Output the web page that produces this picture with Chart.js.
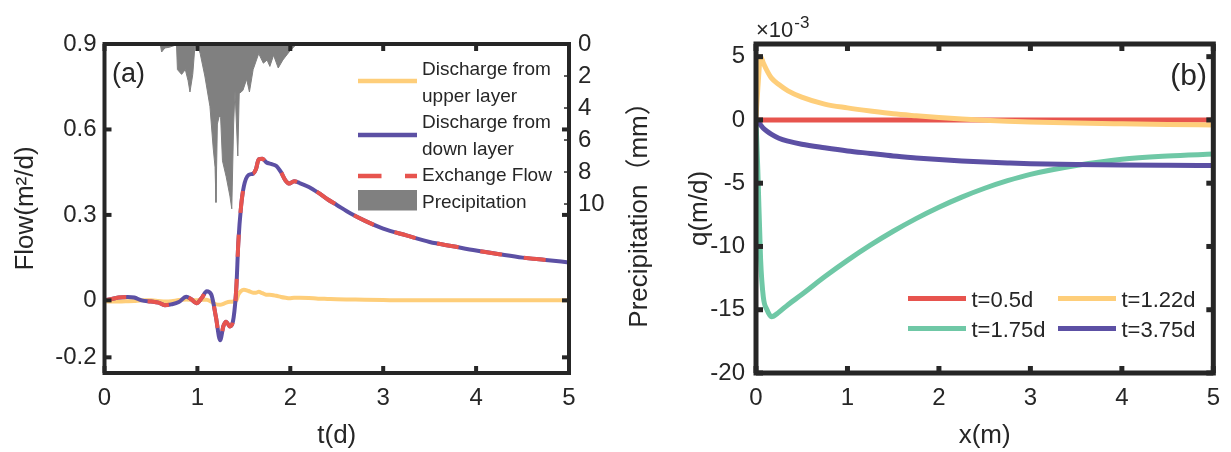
<!DOCTYPE html>
<html>
<head>
<meta charset="utf-8">
<script src="https://cdn.jsdelivr.net/npm/chart.js@4.4.1/dist/chart.umd.min.js"></script>
<style>
  html, body { margin: 0; padding: 0; background: #fff; }
  #wrap { position: relative; width: 1231px; height: 452px; }
  #flowBox { position: absolute; left: 0; top: 0; width: 680px; height: 452px; }
  #qBox { position: absolute; left: 680px; top: 0; width: 551px; height: 452px; }
</style>
</head>
<body>
<div id="wrap">
  <div id="flowBox"><canvas id="flowChart"></canvas></div>
  <div id="qBox"><canvas id="qChart"></canvas></div>
</div>
<script>
// panel (a): flows against time, rain hanging from the top
var tDays = [0, 0.05, 0.15, 0.25, 0.32, 0.4, 0.5, 0.58, 0.65, 0.72, 0.8, 0.88, 0.93, 0.99,
  1.05, 1.1, 1.15, 1.2, 1.245, 1.28, 1.31, 1.35, 1.39, 1.42, 1.44, 1.47, 1.5, 1.55, 1.6,
  1.63, 1.66, 1.7, 1.74, 1.8, 1.85, 1.9, 1.95, 1.99, 2.04, 2.1, 2.2, 2.3, 2.4, 2.5, 2.65,
  2.8, 3.0, 3.25, 3.5, 3.75, 4.0, 4.25, 4.5, 4.75, 5.0];
var upperFlow = [-0.003, -0.004, -0.004, -0.003, -0.002, 0, 0, -0.002, -0.004, -0.003, 0.001,
  0.003, 0.002, 0, 0.002, 0.002, -0.005, -0.014, -0.015, -0.012, -0.008, -0.005, -0.004, 0,
  0.02, 0.033, 0.037, 0.033, 0.027, 0.027, 0.03, 0.025, 0.02, 0.019, 0.016, 0.012, 0.009,
  0.007, 0.009, 0.009, 0.008, 0.006, 0.005, 0.004, 0.003, 0.002, 0.001, 0, 0, 0, 0, 0, 0, 0, 0];
var downFlow = [0, 0.003, 0.010, 0.012, 0.010, 0, -0.004, -0.008, -0.017, -0.014, -0.006,
  0.013, 0.005, -0.010, 0.010, 0.032, 0.020, -0.060, -0.140, -0.090, -0.075, -0.092, -0.060,
  0.05, 0.20, 0.33, 0.40, 0.44, 0.445, 0.46, 0.495, 0.497, 0.485, 0.478, 0.472, 0.45, 0.42,
  0.41, 0.418, 0.412, 0.398, 0.378, 0.355, 0.335, 0.305, 0.28, 0.252, 0.228, 0.205, 0.19,
  0.175, 0.162, 0.150, 0.142, 0.133];
var exchangeFlow = [0, 0.003, 0.010, 0.012, 0.010, 0, -0.004, -0.008, -0.017, -0.014, -0.006,
  0.013, 0.005, -0.010, 0.010, 0.032, 0.020, -0.060, -0.140, -0.090, -0.075, -0.092, -0.060,
  0.05, 0.20, 0.33, 0.40, 0.44, 0.445, 0.46, 0.495, 0.497, 0.485, 0.478, 0.472, 0.45, 0.42,
  0.41, 0.418, 0.412, 0.398, 0.378, 0.355, 0.335, 0.305, 0.28, 0.252, 0.228, 0.205, 0.19,
  0.175, 0.162, 0.150, 0.142, 0.133];
var rainT = [0.60, 0.615, 0.65, 0.70, 0.75, 0.775, 0.785, 0.83, 0.87, 0.90, 0.92, 0.95, 0.975,
  1.0, 1.03, 1.08, 1.135, 1.17, 1.19, 1.20, 1.215, 1.235, 1.25, 1.27, 1.31, 1.35, 1.37, 1.39,
  1.405, 1.435, 1.45, 1.49, 1.53, 1.56, 1.60, 1.66, 1.71, 1.75, 1.78, 1.82, 1.87, 1.92, 2.0, 2.07];
var rainMM = [0, 0.5, 0.25, 0.2, 0.1, 0, 1.6, 1.9, 1.6, 2.3, 3.0, 1.9, 0,
  0, 0.6, 2.0, 3.9, 6.5, 7.7, 9.9, 5.0, 4.5, 4.6, 7.3, 8.3, 9.5, 10.3, 5.0,
  2.9, 7.0, 3.1, 2.9, 2.2, 3.0, 1.6, 0.6, 1.2, 1.0, 1.4, 0.7, 1.5, 1.0, 0.4, 0];
var tTicks = [0, 1, 2, 3, 4, 5];
var flowTicks = [0.9, 0.6, 0.3, 0, -0.2];
var rainTicks = [0, 2, 4, 6, 8, 10];

// panel (b): q along x, in units of 1e-3 m/d
var xM = [0, 0.02, 0.05, 0.08, 0.12, 0.17, 0.25, 0.35, 0.5, 0.75, 1.0, 1.25, 1.5, 1.75,
  2.0, 2.25, 2.5, 2.75, 3.0, 3.5, 4.0, 4.5, 5.0];
var q05 = [0, 0, 0, 0, 0, 0, 0, 0, 0, 0, 0, 0, 0, 0, 0, 0, 0, 0, 0, 0, 0, 0, 0];
var q122 = [0.2, 2.5, 5.0, 4.5, 3.9, 3.3, 2.8, 2.3, 1.8, 1.25, 0.95, 0.7, 0.48, 0.33,
  0.2, 0.08, -0.02, -0.1, -0.16, -0.25, -0.31, -0.36, -0.4];
var q175 = [0, -4.0, -11.0, -14.0, -15.0, -15.55, -15.2, -14.6, -13.8, -12.4, -11.1, -9.9,
  -8.8, -7.8, -6.9, -6.1, -5.4, -4.8, -4.3, -3.6, -3.1, -2.85, -2.7];
var q375 = [0, -0.15, -0.4, -0.65, -0.9, -1.15, -1.45, -1.68, -1.92, -2.2, -2.45, -2.65,
  -2.85, -3.0, -3.13, -3.24, -3.33, -3.4, -3.46, -3.53, -3.57, -3.59, -3.6];
var xTicks = [0, 1, 2, 3, 4, 5];
var qTicks = [5, 0, -5, -10, -15, -20];

var FONT = "'Liberation Sans', Arial, 'Noto Sans CJK SC', sans-serif";
var INK = '#262626';
var YELLOW = 'rgb(254,206,122)';
var PURPLE = 'rgb(92,80,164)';
var RED = 'rgb(231,84,78)';
var GREEN = 'rgb(111,200,166)';
var GREY = 'rgb(128,128,128)';

Chart.defaults.font.family = FONT;
Chart.defaults.color = INK;

function pairs(xs, ys) {
  return xs.map(function(x, i) { return {x: x, y: ys[i]}; });
}
function fixTicks(values) {
  return function(scale) { scale.ticks = values.map(function(v) { return {value: v}; }); };
}
function fixWidth(w) { return function(scale) { scale.width = w; }; }
function fixHeight(h) { return function(scale) { scale.height = h; }; }
function plain(v) { return String(v); }

function seg(ctx, x1, y1, x2, y2) {
  ctx.beginPath();
  ctx.moveTo(x1, y1);
  ctx.lineTo(x2, y2);
  ctx.stroke();
}

// box round the plot with inward ticks, like the matlab axes
var framePlugin = {
  id: 'frame',
  afterDatasetsDraw: function(chart, args, opts) {
    var a = chart.chartArea, ctx = chart.ctx, len = opts.tickLength;
    ctx.save();
    ctx.strokeStyle = INK;
    ctx.lineWidth = opts.lineWidth;
    ctx.strokeRect(a.left, a.top, a.right - a.left, a.bottom - a.top);
    var xs = chart.scales.x;
    xs.ticks.forEach(function(t) {
      var px = xs.getPixelForValue(t.value);
      seg(ctx, px, a.bottom, px, a.bottom - len);
      seg(ctx, px, a.top, px, a.top + len);
    });
    var ys = chart.scales.y;
    ys.ticks.forEach(function(t) {
      var py = ys.getPixelForValue(t.value);
      seg(ctx, a.left, py, a.left + len, py);
      seg(ctx, a.right, py, a.right - len, py);
    });
    if (opts.minor && chart.scales[opts.minor]) {
      var ms = chart.scales[opts.minor];
      ctx.lineWidth = 1.5;
      ms.ticks.forEach(function(t) {
        var py = ms.getPixelForValue(t.value);
        seg(ctx, a.right, py, a.right - 5, py);
      });
    }
    ctx.restore();
  }
};

// legend, panel letter and the rotated rain title for (a)
var flowDecor = {
  id: 'flowDecor',
  afterDraw: function(chart) {
    var ctx = chart.ctx, ds = chart.data.datasets, a = chart.chartArea;
    ctx.save();
    ctx.fillStyle = INK;
    ctx.font = '27px ' + FONT;
    ctx.textAlign = 'left';
    ctx.textBaseline = 'alphabetic';
    ctx.fillText('(a)', 112, 82);

    var x0 = 358, x1 = 417, tx = 422;
    ctx.lineWidth = 4.5;
    ctx.strokeStyle = ds[0].borderColor;
    seg(ctx, x0, 81, x1, 81);
    ctx.strokeStyle = ds[1].borderColor;
    seg(ctx, x0, 135, x1, 135);
    ctx.strokeStyle = ds[2].borderColor;
    ctx.setLineDash([23.5, 23.5]);
    seg(ctx, x0, 176, x1, 176);
    ctx.setLineDash([]);
    ctx.fillStyle = ds[3].backgroundColor;
    ctx.fillRect(x0, 190, x1 - x0, 20.5);

    ctx.fillStyle = INK;
    ctx.font = '19px ' + FONT;
    var rows = ['Discharge from', 'upper layer', 'Discharge from', 'down layer', 'Exchange Flow', 'Precipitation'];
    rows.forEach(function(s, i) { ctx.fillText(s, tx, 75 + 26.6 * i); });

    var rs = chart.scales.rain;
    ctx.translate(rs.right - 40, (a.top + a.bottom) / 2);
    ctx.rotate(-Math.PI / 2);
    ctx.font = '26px ' + FONT;
    ctx.textAlign = 'center';
    ctx.textBaseline = 'middle';
    ctx.fillText('Precipitation（mm）', 0, 0);
    ctx.restore();
  }
};

// two-column legend, exponent and panel letter for (b)
var qDecor = {
  id: 'qDecor',
  afterDraw: function(chart) {
    var ctx = chart.ctx, ds = chart.data.datasets;
    ctx.save();
    ctx.fillStyle = INK;
    ctx.font = '30px ' + FONT;
    ctx.textAlign = 'right';
    ctx.fillText('(b)', 527, 85);

    ctx.textAlign = 'left';
    ctx.font = '22px ' + FONT;
    ctx.fillText('\u00d710', 76, 37);
    var w = ctx.measureText('\u00d710').width;
    ctx.font = '17px ' + FONT;
    ctx.fillText('-3', 76 + w + 1, 28);

    var cols = [228, 378], rowsY = [298.5, 328.5];
    ctx.font = '22px ' + FONT;
    ctx.lineWidth = 5;
    ds.forEach(function(d, i) {
      var cx = cols[i % 2], cy = rowsY[Math.floor(i / 2)];
      ctx.strokeStyle = d.borderColor;
      seg(ctx, cx, cy, cx + 58, cy);
      ctx.fillStyle = INK;
      ctx.fillText(d.label, cx + 63.5, cy + 8);
    });
    ctx.restore();
  }
};

function axisFont(size) { return {family: FONT, size: size}; }

new Chart(document.getElementById('flowChart'), {
  type: 'line',
  data: {
    datasets: [
      {label: 'Discharge from upper layer', data: pairs(tDays, upperFlow), borderColor: YELLOW,
        borderWidth: 4, pointRadius: 0, cubicInterpolationMode: 'monotone', yAxisID: 'y', order: 3},
      {label: 'Discharge from down layer', data: pairs(tDays, downFlow), borderColor: PURPLE,
        borderWidth: 4, pointRadius: 0, cubicInterpolationMode: 'monotone', yAxisID: 'y', order: 2},
      {label: 'Exchange Flow', data: pairs(tDays, exchangeFlow), borderColor: RED, borderDash: [22, 22],
        borderWidth: 4, pointRadius: 0, cubicInterpolationMode: 'monotone', yAxisID: 'y', order: 1},
      {label: 'Precipitation', data: pairs(rainT, rainMM), borderColor: GREY, backgroundColor: GREY,
        borderWidth: 1, pointRadius: 0, tension: 0, fill: 'origin', yAxisID: 'rain', order: 4}
    ]
  },
  options: {
    responsive: true,
    maintainAspectRatio: false,
    devicePixelRatio: 1,
    animation: false,
    events: [],
    layout: {padding: {top: 44, left: 0, right: 0, bottom: 0}},
    plugins: {
      legend: {display: false},
      tooltip: {enabled: false},
      frame: {lineWidth: 4, tickLength: 7, minor: 'rain'}
    },
    scales: {
      x: {
        type: 'linear', position: 'bottom', min: 0, max: 5,
        afterBuildTicks: fixTicks(tTicks), afterFit: fixHeight(79),
        grid: {display: false, drawTicks: false}, border: {display: false},
        ticks: {font: axisFont(24), padding: 11, maxRotation: 0, autoSkip: false, callback: plain},
        title: {display: true, text: 't(d)', font: axisFont(26), padding: {top: 0, bottom: 1}}
      },
      y: {
        type: 'linear', position: 'left', min: -0.255, max: 0.9,
        afterBuildTicks: fixTicks(flowTicks), afterFit: fixWidth(104.5),
        grid: {display: false, drawTicks: false}, border: {display: false},
        ticks: {font: axisFont(24), padding: 8, autoSkip: false, callback: plain},
        title: {display: true, text: 'Flow(m\u00b2/d)', font: axisFont(26), padding: {top: 10, bottom: 0}}
      },
      rain: {
        type: 'linear', position: 'right', reverse: true, min: 0, max: 20.56,
        afterBuildTicks: fixTicks(rainTicks), afterFit: fixWidth(111),
        grid: {display: false, drawTicks: false}, border: {display: false},
        ticks: {font: axisFont(24), padding: 9, autoSkip: false, callback: plain},
        title: {display: false}
      }
    }
  },
  plugins: [framePlugin, flowDecor]
});

function qLine(label, ys, color, order) {
  return {label: label, data: pairs(xM, ys), borderColor: color, borderWidth: 5,
    pointRadius: 0, cubicInterpolationMode: 'monotone', order: order};
}

new Chart(document.getElementById('qChart'), {
  type: 'line',
  data: {
    datasets: [
      qLine('t=0.5d', q05, RED, 4),
      qLine('t=1.22d', q122, YELLOW, 3),
      qLine('t=1.75d', q175, GREEN, 2),
      qLine('t=3.75d', q375, PURPLE, 1)
    ]
  },
  options: {
    responsive: true,
    maintainAspectRatio: false,
    devicePixelRatio: 1,
    animation: false,
    events: [],
    layout: {padding: {top: 44, left: 0, right: 9, bottom: 0}},
    plugins: {
      legend: {display: false},
      tooltip: {enabled: false},
      frame: {lineWidth: 5, tickLength: 7}
    },
    scales: {
      x: {
        type: 'linear', position: 'bottom', min: 0, max: 5,
        afterBuildTicks: fixTicks(xTicks), afterFit: fixHeight(79),
        grid: {display: false, drawTicks: false}, border: {display: false},
        ticks: {font: axisFont(24), padding: 11, maxRotation: 0, autoSkip: false, callback: plain},
        title: {display: true, text: 'x(m)', font: axisFont(26), padding: {top: 0, bottom: 1}}
      },
      y: {
        type: 'linear', position: 'left', min: -20, max: 6,
        afterBuildTicks: fixTicks(qTicks), afterFit: fixWidth(76),
        grid: {display: false, drawTicks: false}, border: {display: false},
        ticks: {font: axisFont(24), padding: 11, autoSkip: false, callback: plain},
        title: {display: true, text: 'q(m/d)', font: axisFont(26), padding: {top: 4, bottom: 0}}
      }
    }
  },
  plugins: [framePlugin, qDecor]
});
</script>
</body>
</html>
